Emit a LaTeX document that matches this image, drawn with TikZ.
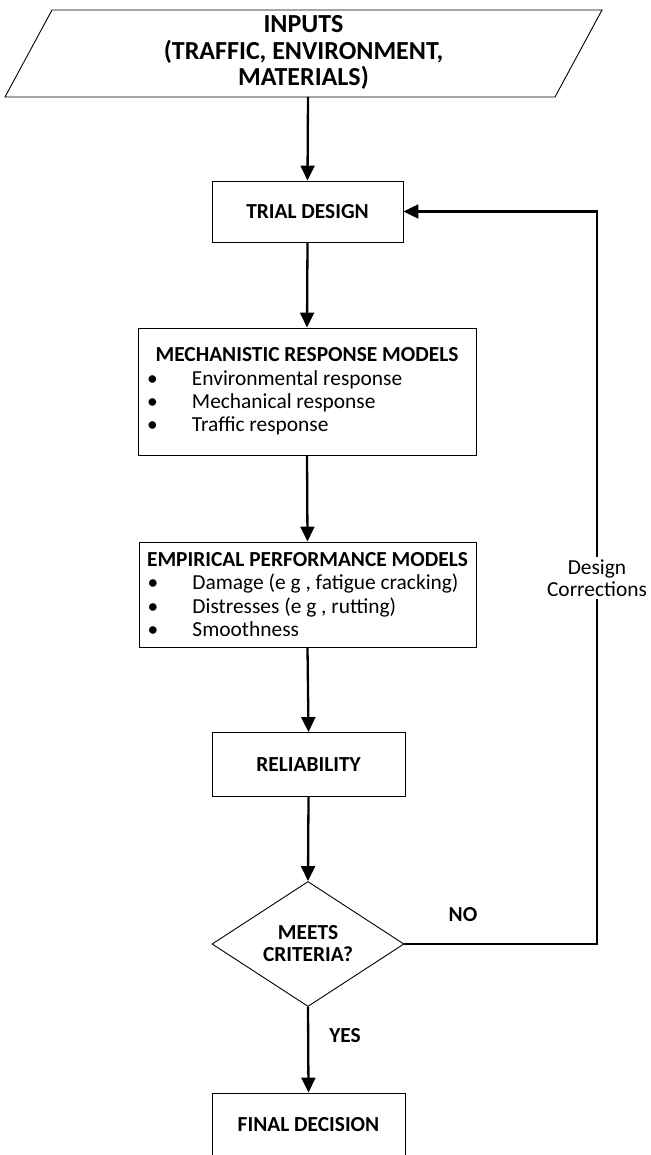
\documentclass[tikz,border=0pt]{standalone}
\usepackage{fontspec}
\setmainfont{Carlito}
\usetikzlibrary{shapes.geometric,arrows.meta}

\tikzset{
  boxline/.style={draw=black, line width=0.9pt},
  stepbox/.style={boxline, rectangle, inner sep=0pt, align=center,
    font=\bfseries\fontsize{21.4}{23.5}\selectfont},
  panel/.style={boxline, rectangle, inner sep=0pt,
    font=\fontsize{21.4}{23.4}\selectfont},
  lbl/.style={inner sep=0pt, align=center, font=\bfseries\fontsize{21.4}{22}\selectfont},
  flow/.style={line width=2.3pt, -{Triangle[length=15pt,width=14pt]}},
  link/.style={line width=2.3pt}
}

% bullet list line inside a panel
\newcommand\bitem[1]{\makebox[45pt][l]{\textbullet}#1\par}
% centred panel heading
\newcommand\phead[1]{\makebox[\linewidth][c]{\bfseries #1}\par}

\begin{document}
\begin{tikzpicture}[x=1pt,y=-1pt]
\useasboundingbox (0,0) rectangle (650,1155);

% input parallelogram
\draw[boxline] (52,10) -- (602,10) -- (555,97) -- (5,97) -- cycle;
\node[inner sep=0pt, align=center, font=\bfseries\fontsize{26}{26.5}\selectfont]
  (in) at (303.5,52.5) {INPUTS\\(TRAFFIC, ENVIRONMENT,\\MATERIALS)};
\coordinate (inb) at (308,97);

\node[stepbox, minimum width=191pt, minimum height=61pt] (trial) at (307.5,211.5) {TRIAL DESIGN};

\node[panel, minimum width=338pt, minimum height=127pt] (mech) at (307,391.5) {%
  \begin{minipage}{320pt}
    \phead{MECHANISTIC RESPONSE MODELS}
    \bitem{Environmental response}
    \bitem{Mechanical response}
    \bitem{Traffic response}
  \end{minipage}};

\node[panel, minimum width=337pt, minimum height=105pt] (emp) at (307.5,594.5) {%
  \begin{minipage}{320pt}
    \phead{EMPIRICAL PERFORMANCE MODELS}
    \bitem{Damage (e g , fatigue cracking)}
    \bitem{Distresses (e g , rutting)}
    \bitem{Smoothness}
  \end{minipage}};

\node[stepbox, minimum width=193pt, minimum height=64pt] (rel) at (308.5,764.5) {RELIABILITY};

\node[boxline, diamond, minimum width=192pt, minimum height=125pt, aspect=1.536,
      inner sep=0pt, align=center, font=\bfseries\fontsize{21.4}{22}\selectfont]
  (dec) at (308,944) {MEETS\\CRITERIA?};

\node[stepbox, minimum width=193pt, minimum height=64pt] (fin) at (308.5,1125) {FINAL DECISION};

% labels
\node[lbl] (no) at (463,915) {NO};
\node[lbl] (yes) at (345,1036) {YES};
\node[inner sep=2pt, align=center, font=\fontsize{21.4}{22}\selectfont]
  (corr) at (597,578) {Design\\Corrections};

% main flow
\draw[flow] (inb) -- (trial.north);
\draw[flow] (trial.south) -- (mech.north);
\draw[flow] (mech.south) -- (emp.north);
\draw[flow] (emp.south) -- (rel.north);
\draw[flow] (rel.south) -- (dec.north);
\draw[flow] (dec.south) -- (fin.north);

% feedback loop
\draw[link] (dec.east) -| (corr.south);
\draw[flow] (corr.north) |- (trial.east);
\end{tikzpicture}
\end{document}
